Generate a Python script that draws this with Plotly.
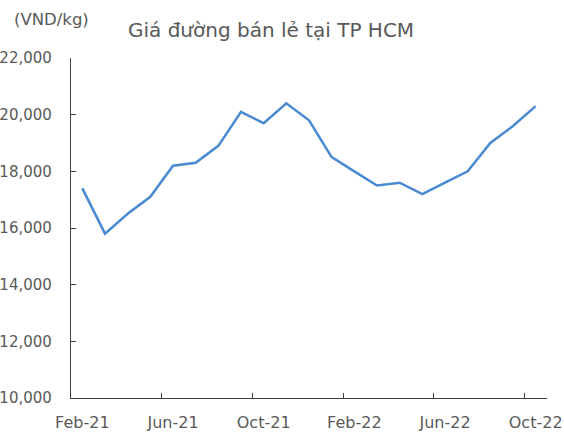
import plotly.graph_objects as go

months = ["Feb-21", "Mar-21", "Apr-21", "May-21", "Jun-21", "Jul-21", "Aug-21",
          "Sep-21", "Oct-21", "Nov-21", "Dec-21", "Jan-22", "Feb-22", "Mar-22",
          "Apr-22", "May-22", "Jun-22", "Jul-22", "Aug-22", "Sep-22", "Oct-22"]
price = [17400, 15800, 16500, 17100, 18200, 18300, 18900,
         20100, 19700, 20400, 19800, 18500, 18000, 17500,
         17600, 17200, 17600, 18000, 19000, 19600, 20300]
x_tick_labels = ["Feb-21", "Jun-21", "Oct-21", "Feb-22", "Jun-22", "Oct-22"]
y_ticks = [10000, 12000, 14000, 16000, 18000, 20000, 22000]

title_text = "Giá đường bán lẻ tại TP HCM"
unit_text = "(VND/kg)"

FONT = "DejaVu Sans"
TXT = "#595959"
AX = "#404040"

fig = go.Figure()
fig.add_trace(go.Scatter(
    x=months, y=price, mode="lines",
    line=dict(color="#4A8AD0", width=2.5),
    hoverinfo="x+y", showlegend=False,
))

W, H = 564, 432
L, R, T, B = 71, 17.3, 58.3, 33.7
pw, ph = W - L - R, H - T - B

fig.update_layout(
    width=W, height=H,
    margin=dict(l=L, r=R, t=T, b=B, pad=0),
    paper_bgcolor="white", plot_bgcolor="white",
    font=dict(family=FONT, color=TXT, size=16),
    showlegend=False,
)

fig.update_xaxes(
    type="category",
    categoryorder="array", categoryarray=months,
    range=[-0.5, len(months) - 0.5],
    tickmode="array", tickvals=x_tick_labels, ticktext=x_tick_labels,
    tickson="boundaries", tickangle=0,
    ticks="inside", ticklen=5, tickwidth=1, tickcolor=AX,
    showline=True, linecolor=AX, linewidth=1.3,
    showgrid=False, zeroline=False,
    tickfont=dict(family=FONT, size=16, color=TXT),
    ticklabelstandoff=10,
    automargin=False,
)

fig.update_yaxes(
    range=[10000, 22000],
    tickmode="array", tickvals=y_ticks,
    tickformat=",d",
    ticks="inside", ticklen=5, tickwidth=1, tickcolor=AX,
    showline=True, linecolor=AX, linewidth=1.3,
    showgrid=False, zeroline=False,
    tickfont=dict(family=FONT, size=15, color=TXT),
    ticklabelstandoff=15,
    automargin=False,
)

fig.add_annotation(
    text=title_text, showarrow=False,
    xref="paper", yref="paper",
    x=(271 - L) / pw, y=(H - B - 30) / ph,
    xanchor="center", yanchor="middle",
    font=dict(family=FONT, size=20, color=TXT),
)
fig.add_annotation(
    text=unit_text, showarrow=False,
    xref="paper", yref="paper",
    x=(51.5 - L) / pw, y=(H - B - 20) / ph,
    xanchor="center", yanchor="middle",
    font=dict(family=FONT, size=16.5, color=TXT),
)

fig.write_html(
    "out.html",
    config={"displayModeBar": False},
    post_script="document.body.style.margin='0';document.body.style.overflow='hidden';",
)
